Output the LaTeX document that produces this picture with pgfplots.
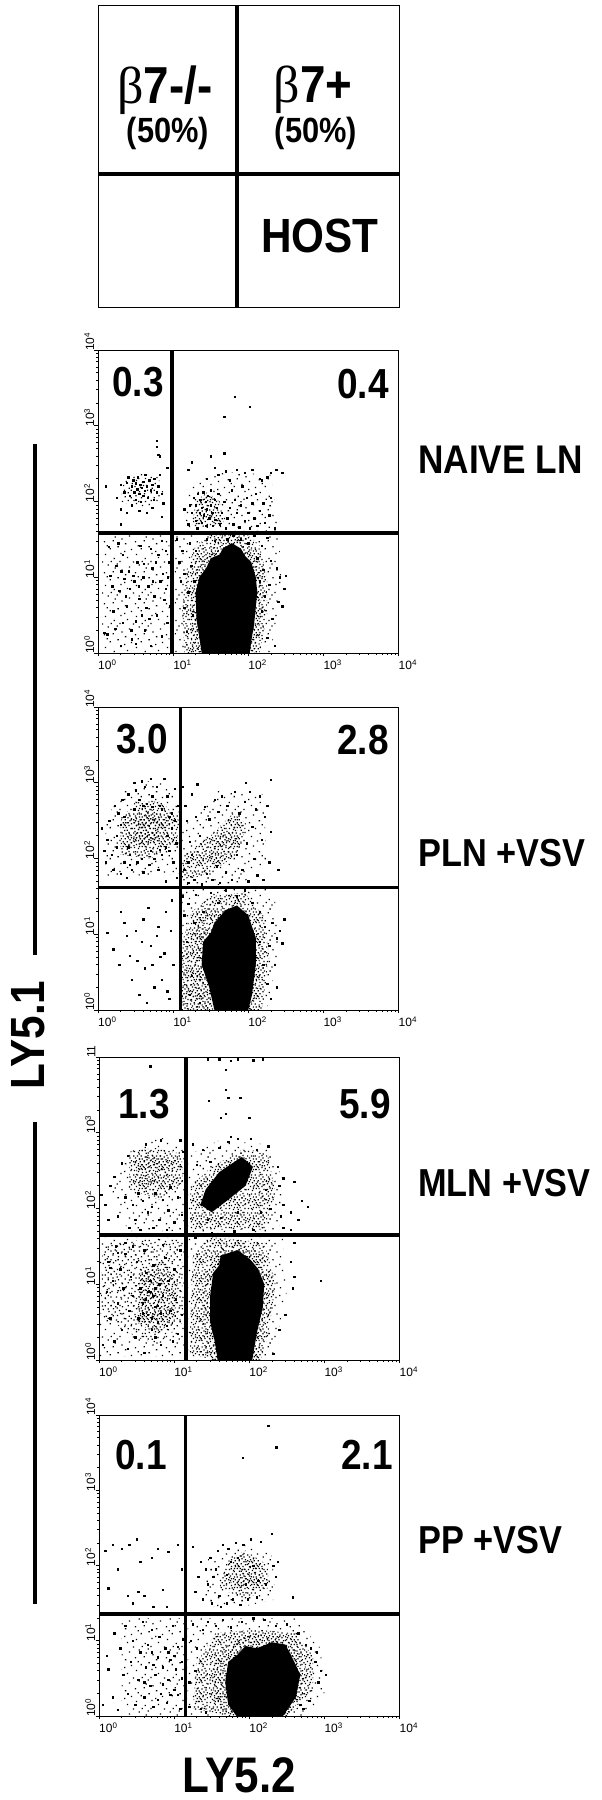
\documentclass[border=0pt]{standalone}
\usepackage{fontspec}
\setmainfont{Liberation Sans}
\newfontfamily\heavy[FakeStretch=0.88]{Liberation Sans}
\newfontfamily\greek{Liberation Serif}
\usepackage{pgfplots}
\pgfplotsset{compat=1.18}
\usetikzlibrary{patterns}

% stipple tiles for the regions too dense to list dot by dot; they can be overlaid
\newcommand{\sq}[2]{\pgfpathrectangle{\pgfqpoint{#1pt}{#2pt}}{\pgfqpoint{1.3pt}{1.3pt}}}
\pgfdeclarepatternformonly{stipA}{\pgfqpoint{0pt}{0pt}}{\pgfqpoint{19pt}{19pt}}{\pgfqpoint{19pt}{19pt}}{%
  \sq{1}{2}\sq{5}{1}\sq{9}{3}\sq{13}{0}\sq{17}{2}\sq{3}{5}\sq{7}{6}\sq{11}{5}\sq{15}{5}\sq{17.5}{7}\sq{1}{8}\sq{5}{9}\sq{9}{8}\sq{13}{8}\sq{16}{10}\sq{0}{11}\sq{3}{12}\sq{7}{11}\sq{11}{11}\sq{14}{13}\sq{17.5}{12}\sq{2}{15}\sq{6}{14}\sq{9}{14}\sq{12}{16}\sq{16}{15}\sq{0}{17}\sq{4}{17}\sq{8}{17}\sq{15}{17.5}\sq{6}{3}\sq{12}{3}\sq{2}{10}\sq{10}{6}
  \pgfusepath{fill}}
\pgfdeclarepatternformonly{stipB}{\pgfqpoint{0pt}{0pt}}{\pgfqpoint{23pt}{23pt}}{\pgfqpoint{23pt}{23pt}}{%
  \sq{2}{1}\sq{8}{3}\sq{14}{0}\sq{20}{2}\sq{4}{6}\sq{11}{7}\sq{17}{5}\sq{21.5}{8}\sq{0}{10}\sq{7}{10}\sq{13}{11}\sq{19}{11}\sq{3}{14}\sq{10}{15}\sq{16}{14}\sq{21}{16}\sq{6}{18}\sq{13}{19}\sq{19}{20}\sq{1}{20}\sq{9}{21.5}\sq{16}{21.5}\sq{5}{3}
  \pgfusepath{fill}}
\pgfdeclarepatternformonly{stipC}{\pgfqpoint{0pt}{0pt}}{\pgfqpoint{31pt}{31pt}}{\pgfqpoint{31pt}{31pt}}{%
  \sq{3}{2}\sq{12}{5}\sq{21}{1}\sq{28}{6}\sq{7}{10}\sq{17}{11}\sq{25}{13}\sq{1}{16}\sq{11}{18}\sq{20}{19}\sq{29}{21}\sq{5}{24}\sq{15}{26}\sq{24}{27}\sq{9}{29}\sq{18}{29.5}\sq{27}{29.5}\sq{0}{8}\sq{14}{14}\sq{22}{23}
  \pgfusepath{fill}}

% all facs coordinates are in decades: 0 = 10^0 ... 4 = 10^4, one picture pixel = 1pt
\newcommand{\minorlist}{.301,.477,.602,.699,.778,.845,.903,.954,1.301,1.477,1.602,1.699,1.778,1.845,1.903,1.954,2.301,2.477,2.602,2.699,2.778,2.845,2.903,2.954,3.301,3.477,3.602,3.699,3.778,3.845,3.903,3.954}
\pgfplotsset{
  facs/.style={
    scale only axis, width=300.5pt, height=303pt, anchor=south west,
    xmin=0, xmax=4, ymin=0, ymax=4,
    axis line style={line width=.9pt}, axis on top,
    tick align=outside, xtick pos=bottom, ytick pos=left,
    tick style={black, line width=.6pt},
    major tick length=3.5pt, minor tick length=1.8pt,
    xtick={0,1,2,3,4}, ytick={0,1,2,3,4},
    minor xtick/.expand once=\minorlist, minor ytick/.expand once=\minorlist,
    xticklabels={10\textsuperscript{0},10\textsuperscript{1},10\textsuperscript{2},10\textsuperscript{3},10\textsuperscript{4}},
    yticklabels={10\textsuperscript{0},10\textsuperscript{1},10\textsuperscript{2},10\textsuperscript{3},10\textsuperscript{4}},
    tick label style={font=\fontsize{12}{12}\selectfont, inner sep=0pt},
    xticklabel style={anchor=north west, yshift=-3pt},
    yticklabel style={rotate=90, anchor=south west, xshift=-1pt},
  },
  dots/.style={only marks, mark=square*, mark size=.7pt, black},
  core/.style={fill=black, draw=none},
  pa/.style={pattern=stipA, pattern color=black, draw=none},
  pb/.style={pattern=stipB, pattern color=black, draw=none},
  pc/.style={pattern=stipC, pattern color=black, draw=none},
  gate/.style={black, no marks, line width=#1},
}
\tikzset{
  big/.style={font=\fontsize{#1}{#1}\selectfont\heavy\bfseries, inner sep=0pt},
}

\begin{document}
\begin{tikzpicture}
\useasboundingbox (0,0) rectangle (602pt,1800pt);

% ------- key panel
\begin{axis}[scale only axis, width=301pt, height=302pt, anchor=south west,
    at={(98pt,1493pt)}, xmin=0, xmax=1, ymin=0, ymax=1, ticks=none,
    axis line style={line width=.9pt}, axis on top]
  \addplot[gate=3.5pt] coordinates {(.462,0) (.462,1)};
  \addplot[gate=3.5pt] coordinates {(0,.44) (1,.44)};
\end{axis}
\node[big=52] at (165pt,1710pt) {{\greek\mdseries β}7-/-};
\node[big=35] at (168pt,1667pt) {(50\%)};
\node[big=52] at (313pt,1710pt) {{\greek\mdseries β}7+};
\node[big=35] at (316pt,1667pt) {(50\%)};
\node[big=48] at (320pt,1564pt) {HOST};

% ------- naive LN
\begin{axis}[facs, at={(98pt,1147pt)}]
  \addplot[pc] coordinates {(.05,0)(.05,1.55)(.95,1.55)(.95,0)} --cycle;
  \addplot[pb] coordinates {(.3,2)(.35,2.3)(.55,2.38)(.8,2.32)(.88,2.1)(.75,1.95)(.5,1.92)} --cycle;
  \addplot[pc] coordinates {(1.15,1.65)(1.2,2.2)(1.6,2.4)(2.3,2.35)(2.4,1.65)} --cycle;
  \addplot[pa] coordinates {(1.25,1.65)(1.3,2)(1.45,2.12)(1.62,2)(1.68,1.7)} --cycle;
  \addplot[pc] coordinates {(1.02,0)(1.02,1.6)(2.4,1.62)(2.45,.9)(2.3,0)} --cycle;
  \addplot[pa] coordinates {(1.15,0)(1.12,.6)(1.18,1.1)(1.3,1.42)(1.55,1.6)(1.95,1.6)(2.15,1.42)(2.25,1)(2.25,.5)(2.15,0)} --cycle;
  \addplot[pb] coordinates {(1.25,0)(1.22,.6)(1.3,1.1)(1.45,1.35)(1.7,1.5)(2,1.45)(2.17,1.1)(2.17,.4)(2.08,0)} --cycle;
  \addplot[core] coordinates {(1.38,0)(1.35,.2)(1.31,.45)(1.3,.8)(1.35,1)(1.44,1.12)(1.5,1.25)(1.62,1.3)(1.66,1.38)(1.78,1.45)(1.9,1.38)(1.96,1.28)(2.04,1.2)(2.1,1)(2.12,.8)(2.08,.4)(2.04,.15)(2.02,0)} --cycle;
  \addplot[dots] coordinates {(.12,.25)(.2,.55)(.08,.27)(.3,.1)(.45,.18)(.5,.42)(.38,.62)(.62,.3)(.7,.1)(.78,.5)(.85,.22)(.92,.4)(.55,.72)(.28,.82)(.16,1.02)(.24,1.15)(.33,1.3)(.41,1.08)(.48,.95)(.52,1.2)(.6,1)(.67,.88)(.72,1.12)(.8,1.3)(.86,1.05)(.9,.85)(.95,1.2)(.75,.75)(.64,.6)(.42,.85)(.35,.98)(.19,.88)(.14,1.4)(.27,1.45)(.56,1.42)(.7,1.38)(.85,1.48)(.93,1)(.96,.62)(.88,.7)(.5,.12)(.33,.4)(.23,.32)(.58,.5)(.68,.45)(.44,.3)(.37,.75)(.31,1.08)(.47,1.02)(.54,.88)(.61,1.18)(.77,1.2)(.83,.95)(.9,1.35)(.73,.95)
    (.3,2.22)(.35,2.12)(.38,2.25)(.4,2.32)(.42,2.08)(.45,2.2)(.47,2.28)(.48,2.12)(.5,2.02)(.5,2.24)(.52,2.16)(.53,2.32)(.55,2.1)(.56,2.22)(.57,2)(.58,2.18)(.6,2.26)(.6,2.08)(.62,2.14)(.63,2.35)(.65,2.2)(.66,2.05)(.68,2.28)(.7,2.15)(.72,2.22)(.74,2.02)(.75,2.3)(.78,2.12)(.8,2.2)(.82,2.35)(.85,2.1)(.87,1.98)(.45,1.95)(.38,1.85)(.3,1.9)(.55,1.88)(.65,1.85)(.72,1.92)(.85,1.8)(.1,2.2)(.25,2.05)(.92,2.45)(.8,2.62)(.3,1.7)
    (1.2,1.7)(1.22,1.95)(1.25,1.85)(1.27,2.05)(1.3,1.75)(1.3,1.95)(1.32,1.65)(1.33,2.1)(1.35,1.85)(1.36,2.02)(1.38,1.72)(1.38,1.92)(1.4,2.12)(1.41,1.82)(1.43,2)(1.44,1.68)(1.45,1.9)(1.46,2.08)(1.48,1.78)(1.5,1.95)(1.5,2.15)(1.52,1.85)(1.53,1.68)(1.55,2.02)(1.56,1.76)(1.58,1.92)(1.6,2.1)(1.62,1.7)(1.65,1.85)(1.68,2)(1.7,1.65)(1.72,1.78)(1.75,1.92)(1.78,2.15)(1.8,1.7)(1.82,2.02)(1.85,1.85)(1.88,1.66)(1.9,1.95)(1.92,2.2)(1.95,1.75)(1.98,2.05)(2,1.85)(2.02,1.65)(2.05,1.98)(2.08,1.78)(2.1,2.1)(2.12,1.68)(2.15,1.88)(2.18,2.28)(2.2,1.98)(2.22,1.72)(2.25,2.32)(2.28,1.82)(2.3,2.05)(2.35,1.65)(1.55,2.45)(1.6,2.35)(1.7,2.4)(1.75,2.28)(1.85,2.42)(1.95,2.38)(2.05,2.42)(2.15,2.3)(2.3,2.38)(2.37,2.42)(2.45,2.38)(1.68,2.64)(1.45,2.3)(1.2,2.42)(1.15,1.9)(2.02,3.25)(1.82,3.38)(1.68,3.12)(.78,2.8)(.78,2.72)(.82,2.6)(1.25,2.52)(1.5,2.6)
    (1.05,1.5)(1.08,1.2)(1.1,.95)(1.12,1.35)(1.15,.6)(1.15,1.05)(1.18,.28)(1.2,.8)(1.22,1.45)(1.24,1.15)(1.26,.5)(1.28,.95)(1.3,1.35)(2.12,1.25)(2.15,.95)(2.18,.55)(2.2,1.1)(2.22,.75)(2.25,.2)(2.28,.9)(2.3,1.22)(2.32,.45)(2.35,.1)(2.4,.68)(2.38,1.12)(2.42,1)(2.5,1.02)(2.48,.85)(2.45,.62)(1.45,1.5)(1.55,1.48)(1.62,1.58)(1.72,1.5)(1.8,1.55)(1.9,1.5)(2,1.45)(2.08,1.55)(2.25,1.52)(2.18,1.42)};
  \addplot[gate=4pt] coordinates {(.98,0) (.98,4)};
  \addplot[gate=3.5pt] coordinates {(0,1.584) (4,1.584)};
\end{axis}
\node[big=42] at (138pt,1418pt) {0.3};
\node[big=42] at (363pt,1416pt) {0.4};
\node[big=40, anchor=west] at (418pt,1340pt) {NAIVE LN};

% ------- PLN + VSV
\begin{axis}[facs, at={(98pt,790pt)}]
  \addplot[pc] coordinates {(.1,1.75)(.1,2.5)(.35,2.95)(.8,3.05)(1.08,2.9)(1.08,1.8)} --cycle;
  \addplot[pa] coordinates {(.3,2.05)(.3,2.5)(.5,2.75)(.85,2.75)(1.08,2.5)(1.05,2.2)(.7,2)} --cycle;
  \addplot[pb] coordinates {(.4,2.15)(.4,2.55)(.7,2.65)(.95,2.5)(.85,2.2)} --cycle;
  \addplot[pa] coordinates {(.5,2.25)(.5,2.5)(.72,2.58)(.88,2.45)(.78,2.25)} --cycle;
  \addplot[pc] coordinates {(1.12,1.65)(1.12,2.4)(1.6,2.9)(2.2,2.85)(2.25,1.95)(1.9,1.65)} --cycle;
  \addplot[pa] coordinates {(1.1,1.72)(1.15,2.05)(1.5,2.3)(1.8,2.6)(1.98,2.45)(1.85,2.05)(1.55,1.85)(1.3,1.75)} --cycle;
  \addplot[pb] coordinates {(1.35,1.95)(1.6,2.3)(1.85,2.5)(1.88,2.2)(1.6,1.95)} --cycle;
  \addplot[pc] coordinates {(1.1,0)(1.1,1.6)(2.35,1.6)(2.4,.8)(2.25,0)} --cycle;
  \addplot[pa] coordinates {(1.12,0)(1.12,.9)(1.25,1.3)(1.5,1.5)(1.95,1.55)(2.2,1.25)(2.28,.7)(2.18,0)} --cycle;
  \addplot[pb] coordinates {(1.12,.1)(1.2,1)(1.5,1.3)(1.95,1.35)(2.15,1)(2.15,.3)(2.05,0)(1.3,0)} --cycle;
  \addplot[core] coordinates {(1.55,0)(1.48,.3)(1.38,.6)(1.4,.9)(1.5,1.02)(1.55,1.15)(1.7,1.32)(1.85,1.38)(2,1.25)(2.1,.95)(2.1,.6)(2.05,.2)(2,0)} --cycle;
  \addplot[dots] coordinates {(.12,1.02)(.2,.8)(.3,1.3)(.35,1.15)(.28,.6)(.55,.2)(.62,.55)(.7,.85)(.75,.3)(.8,1.1)(.85,.4)(.9,1.3)(.95,.15)(.6,1.2)(.5,1.05)(.42,.72)(.65,.1)(.78,.98)(.88,.75)(.98,1.45)(1,.6)(.97,1.05)(.72,.6)(.58,.9)(.45,.4)(.67,1.35)(.92,.25)(.83,.7)(.52,.65)(.38,.98)
    (.05,2.4)(.08,2.1)(.1,1.95)(.12,2.25)(.15,2.5)(.18,2.05)(.2,1.85)(.22,2.7)(.25,2.3)(.27,2.6)(.3,1.8)(.32,2.78)(.35,1.95)(.38,1.75)(.4,2.85)(.42,2.05)(.45,1.85)(.48,3)(.5,2.9)(.52,1.95)(.55,2.78)(.58,3.02)(.6,1.82)(.62,2.95)(.65,2.72)(.68,1.92)(.7,3.05)(.72,2.82)(.75,2)(.78,2.95)(.8,1.85)(.82,2.7)(.85,2.05)(.88,3.05)(.9,1.7)(.92,2.82)(.95,2.1)(.98,2.6)(1,1.95)(1.02,2.92)(1.04,2.2)(1.05,1.75)(1.06,2.7)(.3,2.45)(.25,2.15)(.35,2.55)(.4,2.15)(.48,2.65)(.6,2.7)(.72,2.68)(.85,2.65)(.92,2.3)(.98,2.4)(1.02,2.5)(.95,2.55)(.42,1.92)(.58,2)(.7,2.1)(.82,2.12)(.9,2.15)
    (1.12,2.95)(1.16,2.7)(1.18,2.5)(1.2,1.68)(1.22,2.22)(1.25,2.85)(1.28,1.72)(1.3,2.55)(1.32,2.98)(1.35,2.3)(1.38,1.66)(1.42,2.68)(1.45,1.8)(1.48,2.52)(1.52,1.72)(1.55,2.78)(1.58,1.9)(1.6,2.62)(1.62,1.68)(1.65,2.82)(1.7,1.82)(1.72,2.7)(1.78,1.72)(1.82,2.88)(1.85,2.05)(1.88,2.6)(1.92,1.85)(1.95,2.75)(1.98,2.2)(2,1.7)(2.02,2.88)(2.05,2.42)(2.08,2)(2.1,2.65)(2.12,1.78)(2.15,2.82)(2.18,2.25)(2.2,1.72)(2.22,2.55)(2.25,2.7)(2.28,1.95)(2.3,2.35)(1.97,3)(2.3,3.04)(2.4,1.85)(1.15,1.85)(1.2,1.95)(1.25,2.05)
    (1.12,1.5)(1.15,1.25)(1.18,.9)(1.2,1.4)(1.22,.2)(1.25,.45)(1.28,1.15)(1.3,1.52)(1.35,.1)(1.4,1.3)(1.5,1.55)(1.6,1.42)(1.7,1.58)(1.85,1.5)(1.95,1.58)(2.05,1.42)(2.15,1.3)(2.15,.9)(2.2,.6)(2.22,1.1)(2.25,.35)(2.28,.85)(2.32,1.15)(2.35,.6)(2.38,.95)(2.42,1.05)(2.45,.88)(2.3,.15)(2.38,.3)(2.48,1.2)};
  \addplot[gate=3pt] coordinates {(1.093,0) (1.093,4)};
  \addplot[gate=3.5pt] coordinates {(0,1.616) (4,1.616)};
\end{axis}
\node[big=42] at (142pt,1061pt) {3.0};
\node[big=42] at (363pt,1060pt) {2.8};
\node[big=39, anchor=west] at (418pt,947pt) {PLN +VSV};

% ------- MLN + VSV
\begin{axis}[facs, at={(99pt,440pt)},
    yticklabels={10\textsuperscript{0},10\textsuperscript{1},10\textsuperscript{2},10\textsuperscript{3},11}]
  \addplot[pc] coordinates {(0,.05)(0,1.62)(1.13,1.62)(1.13,.05)} --cycle;
  \addplot[pb] coordinates {(.02,.6)(.05,1.5)(.6,1.6)(1.1,1.6)(1.12,.5)(.8,.2)(.5,.3)} --cycle;
  \addplot[pa] coordinates {(.5,.5)(.55,1.2)(.85,1.3)(1.05,1)(1,.5)(.75,.35)} --cycle;
  \addplot[pc] coordinates {(.15,2.15)(.4,2.8)(.8,2.95)(1.13,2.8)(1.13,1.7)(.4,1.7)} --cycle;
  \addplot[pa] coordinates {(.4,2.25)(.4,2.75)(.75,2.8)(1.1,2.72)(1.12,2.35)(.8,2.12)} --cycle;
  \addplot[pb] coordinates {(.48,2.35)(.52,2.7)(.8,2.72)(1.02,2.6)(.95,2.4)(.75,2.3)} --cycle;
  \addplot[pc] coordinates {(1.18,1.68)(1.18,2.7)(1.6,2.9)(2.2,2.85)(2.45,2.4)(2.4,1.68)} --cycle;
  \addplot[pa] coordinates {(1.2,1.72)(1.22,2.3)(1.5,2.55)(1.95,2.8)(2.25,2.7)(2.35,2.2)(2.2,1.72)} --cycle;
  \addplot[pc] coordinates {(1.18,0)(1.18,1.63)(2.45,1.63)(2.5,.9)(2.3,0)} --cycle;
  \addplot[pa] coordinates {(1.2,.1)(1.25,1.4)(1.5,1.62)(2.2,1.55)(2.35,1)(2.25,.3)(2.15,0)(1.5,0)} --cycle;
  \addplot[pb] coordinates {(1.42,0)(1.38,.7)(1.42,1.25)(1.65,1.55)(2.1,1.48)(2.28,1)(2.2,.4)(2.1,0)} --cycle;
  \addplot[core] coordinates {(1.58,0)(1.54,.25)(1.48,.5)(1.48,.85)(1.52,1.15)(1.6,1.25)(1.62,1.38)(1.85,1.45)(2.02,1.32)(2.12,1.2)(2.2,1)(2.18,.7)(2.1,.35)(2.04,0)} --cycle;
  \addplot[core] coordinates {(1.35,2.05)(1.42,2.25)(1.6,2.48)(1.9,2.68)(2.05,2.55)(1.95,2.3)(1.7,2.1)(1.5,1.95)} --cycle;
  \addplot[dots] coordinates {(.05,.2)(.1,.9)(.12,1.3)(.15,.55)(.18,1.05)(.2,.25)(.22,1.5)(.25,.75)(.28,1.2)(.3,.4)(.32,.95)(.35,1.4)(.38,.15)(.4,.65)(.42,1.1)(.45,.85)(.48,.3)(.5,1.3)(.52,.55)(.55,.95)(.58,.75)(.6,.1)(.62,1.15)(.65,.6)(.68,.9)(.7,.4)(.72,1.25)(.75,.7)(.78,.5)(.8,1)(.82,.2)(.85,.85)(.88,1.35)(.9,.45)(.92,1.05)(.95,.65)(.98,.25)(1,1.2)(1.02,.8)(1.05,.35)(1.08,1.45)(1.1,.6)(.62,.8)(.68,1.05)(.72,.85)(.75,.95)(.78,.72)(.65,.9)(.58,.62)(.82,.62)(.7,.55)(.75,.3)(.25,1.42)(.15,1.22)(.45,1.5)(.6,1.45)(.85,1.52)(.35,1.55)
    (.03,2.18)(.08,2.05)(.12,1.85)(.15,2.3)(.2,2.42)(.25,1.9)(.3,2.6)(.35,2.15)(.38,2.7)(.4,1.75)(.45,2.05)(.48,1.85)(.52,2.2)(.55,1.72)(.58,2.1)(.62,2.85)(.65,1.95)(.7,2.02)(.72,1.75)(.75,2.2)(.8,1.85)(.82,2.9)(.85,2.12)(.9,1.72)(.92,1.98)(.95,2.28)(1,1.82)(1.05,2.15)(1.1,1.92)(1.08,2.9)(1.12,2.75)
    (.68,3.88)(1.69,3.83)(1.69,3.57)(1.72,3.46)(1.88,3.46)(1.46,3.42)(1.62,3.2)(2,3.2)(1.69,3.25)(1.45,3.97)(1.6,3.97)(1.75,3.95)(1.85,3.97)(2.05,3.96)(2.18,3.97)(1.75,2.95)(2.02,2.92)(2.45,2.4)(2.6,2.35)(2.7,2.1)(2.45,2.05)(2.55,1.95)(2.65,1.85)(2.78,2.02)(2.45,1.75)(2.55,1.72)(2.95,1.05)(2.6,1.1)(2.58,.95)(2.55,1.3)(2.6,1.55)(2.48,.6)(2.4,.4)(2.32,.08)
    (1.25,2.85)(1.3,2.58)(1.38,2.78)(1.48,2.62)(1.6,2.8)(1.72,2.88)(1.85,2.92)(2.1,2.78)(2.25,2.82)(2.38,2.55)(2.4,2.3)(2.42,1.9)(1.28,1.62)(1.5,1.68)(1.8,1.7)(2.05,1.72)(2.15,1.95)(2.22,2.25)(2.28,2)(1.45,1.85)(1.62,1.88)(1.85,1.95)};
  \addplot[gate=3.5pt] coordinates {(1.156,0) (1.156,4)};
  \addplot[gate=3.5pt] coordinates {(0,1.65) (4,1.65)};
\end{axis}
\node[big=42] at (144pt,696pt) {1.3};
\node[big=42] at (365pt,696pt) {5.9};
\node[big=39, anchor=west] at (418pt,617pt) {MLN +VSV};

% ------- PP + VSV
\begin{axis}[facs, at={(99pt,84pt)}, height=301pt]
  \addplot[pc] coordinates {(.3,0)(.3,1.3)(1.13,1.3)(1.13,0)} --cycle;
  \addplot[pc] coordinates {(1.4,1.45)(1.45,2.1)(1.9,2.28)(2.3,2.15)(2.35,1.55)(1.9,1.45)} --cycle;
  \addplot[pa] coordinates {(1.6,1.7)(1.7,2.05)(1.95,2.2)(2.25,2)(2.25,1.7)(1.95,1.55)} --cycle;
  \addplot[pb] coordinates {(1.75,1.75)(1.8,2)(2.05,2.08)(2.18,1.85)(2,1.68)} --cycle;
  \addplot[pc] coordinates {(1.18,0)(1.18,1.3)(2.6,1.3)(2.95,.9)(3,.3)(2.8,0)} --cycle;
  \addplot[pa] coordinates {(1.25,.1)(1.3,.7)(1.55,1.1)(2.1,1.15)(2.6,1.1)(2.85,.8)(2.85,.35)(2.55,.05)(2.5,0)(1.75,0)} --cycle;
  \addplot[pb] coordinates {(1.55,.1)(1.5,.55)(1.65,.95)(2.05,1.1)(2.5,1.05)(2.75,.7)(2.75,.3)(2.5,0)(1.8,0)} --cycle;
  \addplot[core] coordinates {(1.83,0)(1.72,.15)(1.68,.45)(1.72,.72)(1.85,.82)(1.95,.93)(2.1,.9)(2.3,.98)(2.48,.95)(2.55,.82)(2.68,.55)(2.62,.25)(2.45,0)} --cycle;
  \addplot[dots] coordinates {(.05,.15)(.1,.8)(.12,.62)(.18,.25)(.2,1.1)(.25,.08)(.28,.9)(.32,.55)(.35,1.2)(.38,.3)(.42,.72)(.45,1)(.48,.15)(.52,.48)(.55,.85)(.58,1.25)(.6,.25)(.62,.65)(.65,.95)(.68,.4)(.7,1.15)(.72,.12)(.75,.55)(.78,.78)(.8,1.05)(.82,.3)(.85,.65)(.88,.9)(.9,.18)(.92,.48)(.95,.75)(.98,1.2)(1,.35)(1.02,.62)(1.05,.92)(1.08,.1)(1.1,.5)(1.12,1.02)(.72,.68)(.85,.42)(.92,.85)(1.05,.28)(.6,.45)(.78,.22)(.95,.28)(.7,.85)(1,.8)(1.1,.72)
    (.08,2.2)(.12,1.7)(.18,2.28)(.25,1.95)(.3,2.22)(.4,2.28)(.45,1.5)(.5,2.35)(.55,2.05)(.6,1.6)(.7,2.1)(.78,2.22)(.85,1.68)(.92,2.18)(1.05,2.28)(1.1,1.95)(.38,1.6)(.52,1.65)(.72,1.45)(.9,1.45)
    (1.25,2.25)(1.28,1.65)(1.32,1.85)(1.35,2.05)(1.38,1.55)(1.42,1.95)(1.45,1.75)(1.48,2.1)(1.5,1.5)(1.52,1.85)(1.55,1.95)(1.58,2.2)(1.6,1.6)(1.62,1.45)(1.65,2.28)(1.7,1.5)(1.72,2.22)(1.78,1.55)(1.82,2.3)(1.88,1.48)(1.92,2.28)(1.98,1.55)(2.02,2.35)(2.1,1.58)(2.15,2.32)(2.22,1.75)(2.3,2.42)(2.32,2)(2.35,1.85)(2.38,2.05)(2.58,1.58)(2.25,3.86)(2.36,3.57)(1.91,3.43)(1.7,1.88)(1.85,2.1)(1.95,1.75)(2.05,2)(2.12,1.8)(1.75,2.05)
    (1.2,.12)(1.2,.45)(1.22,1)(1.25,1.22)(1.28,.6)(1.3,.9)(1.35,.1)(1.38,1.15)(1.42,.05)(1.45,1.25)(1.55,1.2)(1.65,1.28)(1.75,1.18)(1.9,1.25)(2.05,1.3)(2.2,1.28)(2.35,1.2)(2.5,1.22)(2.65,1.1)(2.75,.95)(2.82,.9)(2.9,.85)(2.88,.72)(2.95,.6)(2.92,.45)(3.02,.55)(2.8,.2)(2.72,.1)(2.68,.15)};
  \addplot[gate=3pt] coordinates {(1.15,0) (1.15,4)};
  \addplot[gate=3.5pt] coordinates {(0,1.355) (4,1.355)};
\end{axis}
\node[big=42] at (141pt,345pt) {0.1};
\node[big=42] at (367pt,345pt) {2.1};
\node[big=39, anchor=west] at (418pt,260pt) {PP +VSV};

% ------- shared axis names, broken line beside LY5.1
\node[big=50] at (239pt,25pt) {LY5.2};
\node[big=48, rotate=90] at (28pt,765pt) {LY5.1};
\draw[line width=3.5pt] (35pt,1356pt) -- (35pt,845pt);
\draw[line width=3.5pt] (35pt,678pt) -- (35pt,196pt);
\end{tikzpicture}
\end{document}
